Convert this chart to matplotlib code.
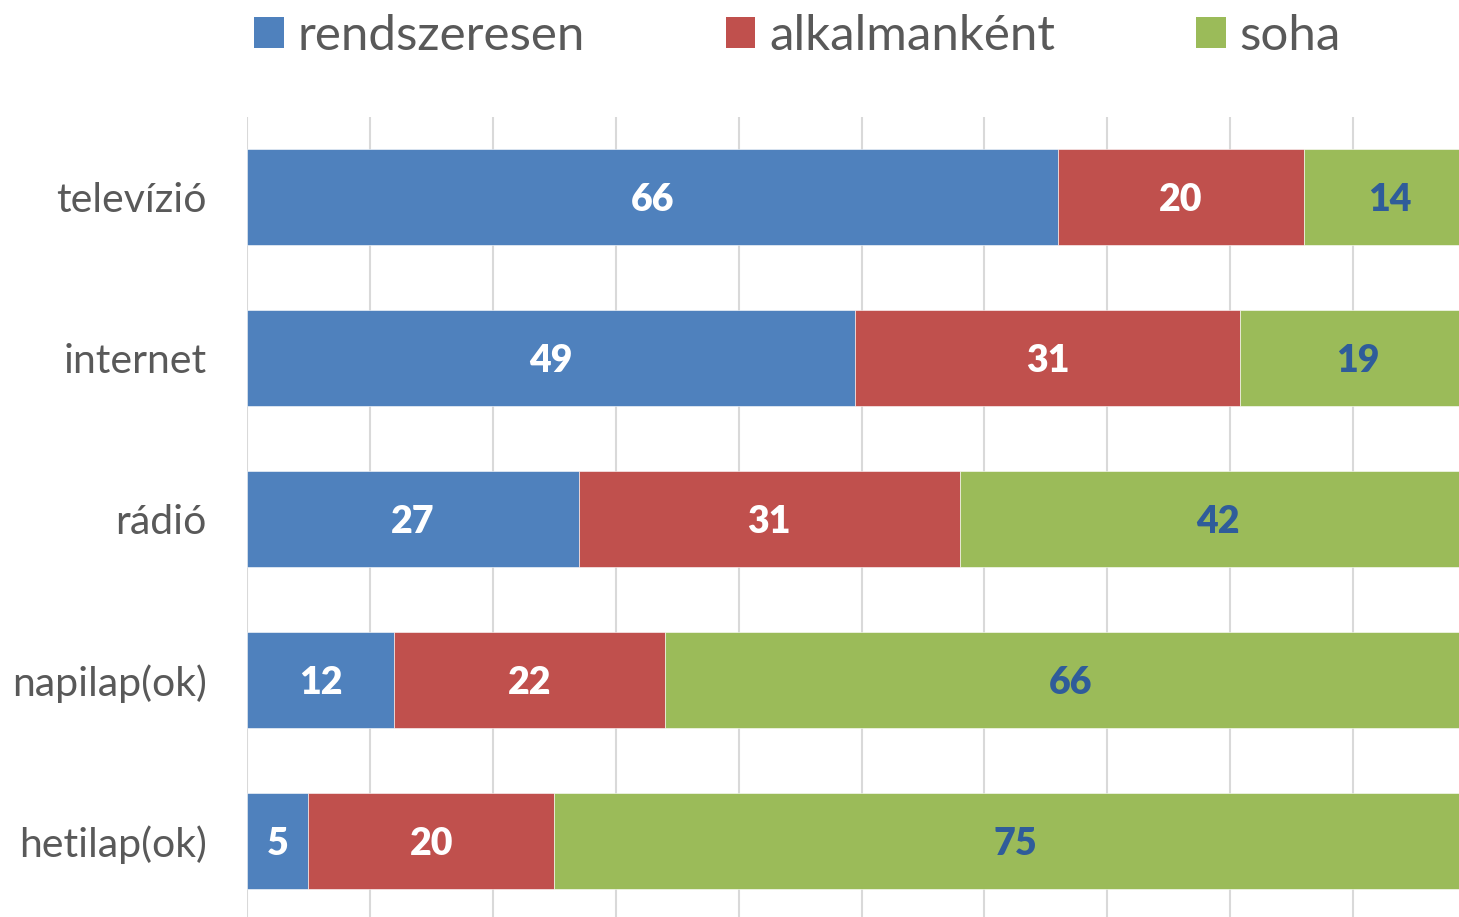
import numpy as np
import matplotlib.pyplot as plt
from matplotlib.patches import Patch

plt.rcParams['font.family'] = ['Lato', 'DejaVu Sans']

categories = ['televízió', 'internet', 'rádió', 'napilap(ok)', 'hetilap(ok)']
series_names = ['rendszeresen', 'alkalmanként', 'soha']
rendszeresen = [66, 49, 27, 12, 5]
alkalmankent = [20, 31, 31, 22, 20]
soha = [14, 19, 42, 66, 75]

colors = ['#4F81BD', '#C0504D', '#9BBB59']
label_colors = ['white', 'white', '#2F5C9A']
text_grey = '#595959'

W, H = 1459, 917
fig = plt.figure(figsize=(W / 100, H / 100), dpi=100)
# axes extends past the right and bottom edges, as in the cropped original
ax = fig.add_axes([247 / W, -4.5 / H, 1229 / W, 805 / H])

data = np.array([rendszeresen, alkalmankent, soha], dtype=float)
shares = data / data.sum(axis=0) * 100
y = np.arange(len(categories))

left = np.zeros(len(categories))
for i, name in enumerate(series_names):
    bars = ax.barh(y, shares[i], left=left, height=0.6, color=colors[i],
                   label=name, zorder=2, edgecolor='white', linewidth=0.4)
    for j, b in enumerate(bars):
        ax.text(left[j] + shares[i][j] / 2, y[j], f'{int(data[i][j])}',
                ha='center', va='center_baseline', color=label_colors[i],
                fontsize=27, fontweight='heavy', zorder=3)
    left += shares[i]

ax.set_xlim(0, 100)
ax.set_ylim(4.5, -0.5)
ax.set_xticks(np.arange(0, 101, 10))
ax.xaxis.grid(True, color='#D9D9D9', linewidth=1.5, zorder=0)
ax.set_axisbelow(True)
ax.tick_params(axis='x', length=0, labelbottom=False)
ax.set_yticks(y)
ax.set_yticklabels(categories, fontsize=29.5, color=text_grey)
ax.tick_params(axis='y', length=0, pad=29)
for s in ax.spines.values():
    s.set_visible(False)

handles = [Patch(facecolor=c, edgecolor='none') for c in colors]
fig.legend(handles, series_names, loc='upper left',
           bbox_to_anchor=(249 / W, 1 - 9 / H), ncol=3, frameon=False,
           fontsize=35.5, labelcolor=text_grey,
           handlelength=0.6, handleheight=0.6, handletextpad=0.28,
           columnspacing=2.86, borderaxespad=0, borderpad=0.1)

fig.savefig('out.png', dpi=100)
